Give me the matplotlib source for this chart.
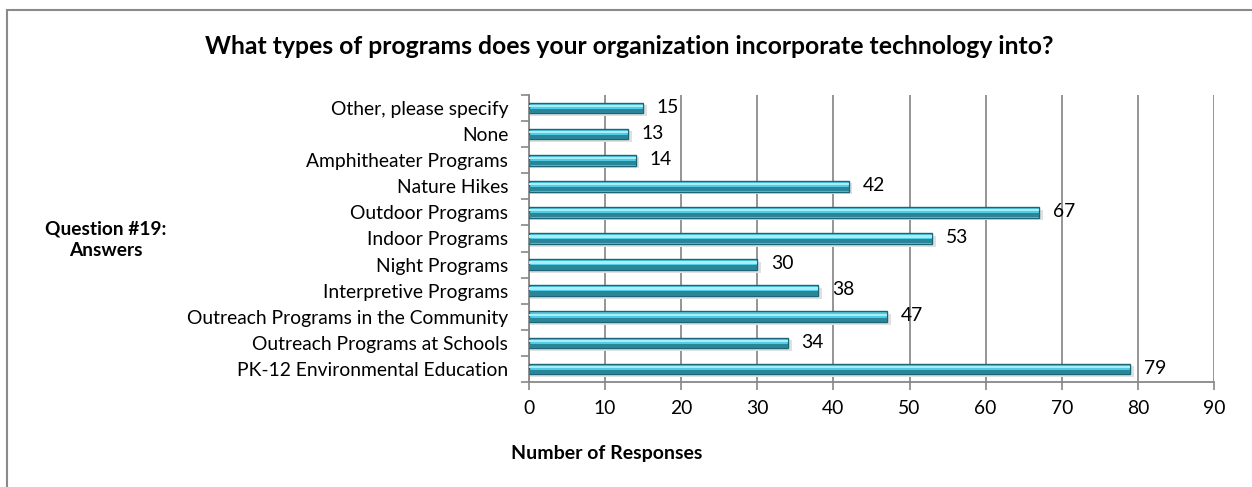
import matplotlib
matplotlib.use('Agg')
import matplotlib.pyplot as plt
from matplotlib.patches import Rectangle

plt.rcParams['font.family'] = ['Lato', 'DejaVu Sans']

categorias = ['PK-12 Environmental Education', 'Outreach Programs at Schools',
              'Outreach Programs in the Community', 'Interpretive Programs',
              'Night Programs', 'Indoor Programs', 'Outdoor Programs',
              'Nature Hikes', 'Amphitheater Programs', 'None',
              'Other, please specify']
respuestas = [79, 34, 47, 38, 30, 53, 67, 42, 14, 13, 15]
xticks = [0, 10, 20, 30, 40, 50, 60, 70, 80, 90]

fig = plt.figure(figsize=(12.52, 4.87), dpi=100)
ax = fig.add_axes([529/1252, 1-382/487, (1214-529)/1252, (382-95)/487])

pos = list(range(len(categorias)))
# sombra
ax.barh([p - 0.1 for p in pos], [v + 0.5 for v in respuestas], height=0.42,
        color='#e0e0e0', zorder=2)
# barra principal
ax.barh(pos, respuestas, height=0.41, color='#52cce4', edgecolor='#1b6676',
        linewidth=1.0, zorder=3)
# parte oscura abajo
ax.barh([p - 0.11 for p in pos], respuestas, height=0.16, color='#2a8599',
        zorder=4)
# brillo arriba
ax.barh([p + 0.08 for p in pos], respuestas, height=0.09, color='#a8eefa',
        zorder=4)

for p, v in zip(pos, respuestas):
    ax.text(v + 1.8, p + 0.03, str(v), va='center', ha='left', fontsize=13.9)

ax.set_xlim(0, 90)
ax.set_ylim(-0.5, len(categorias) - 0.5)
ax.set_xticks(xticks)
ax.set_xticklabels([str(t) for t in xticks], fontsize=13.9)
ax.set_yticks(pos)
ax.set_yticklabels(categorias, fontsize=13.9)
ax.set_yticks([p - 0.5 for p in pos] + [len(categorias) - 0.5], minor=True)
ax.tick_params(axis='y', which='major', length=0, pad=15)
ax.tick_params(axis='y', which='minor', length=6, color='#888888', width=1.2)
ax.tick_params(axis='x', length=6, color='#888888', width=1.2, pad=7)
ax.grid(axis='x', color='#8c8c8c', linewidth=1.3, zorder=1)
ax.set_axisbelow(True)
for s in ['top', 'right']:
    ax.spines[s].set_visible(False)
for s in ['left', 'bottom']:
    ax.spines[s].set_color('#888888')
    ax.spines[s].set_linewidth(1.3)

fig.text(629/1252, 1-46/487, 'What types of programs does your organization incorporate technology into?',
         ha='center', va='center', fontsize=17.8, fontweight='bold')
fig.text(106/1252, 1-240/487, 'Question #19:\nAnswers', ha='center', va='center',
         fontsize=13.8, fontweight='bold', linespacing=1.35)
fig.text(607/1252, 1-453/487, 'Number of Responses', ha='center', va='center',
         fontsize=14, fontweight='bold')

fig.add_artist(Rectangle((6.5/1252, -0.05), 1.2, 1 - 10/487 + 0.05,
                         transform=fig.transFigure, fill=False,
                         edgecolor='#8a8a8a', linewidth=1.5))

fig.savefig('out.png', dpi=100)
